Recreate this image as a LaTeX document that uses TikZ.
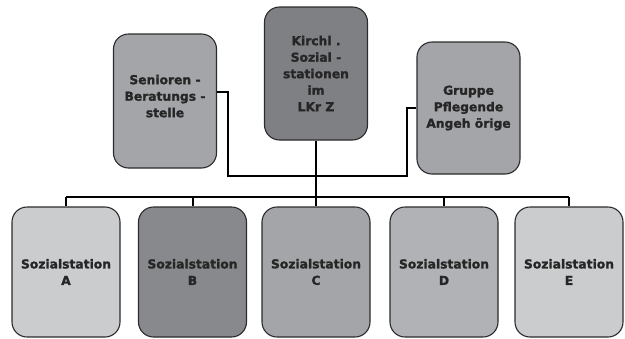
\documentclass[tikz,border=0pt]{standalone}
\usepackage{fontspec}
\setmainfont{DejaVu Sans}[BoldFeatures={FakeBold=1.5}]
\usepackage{xcolor}
\usepackage{tikz}
\usetikzlibrary{positioning}
\definecolor{rim}{HTML}{2B2B2D}
\definecolor{paleg}{HTML}{CBCCCE}
\definecolor{midg}{HTML}{A4A5A8}
\definecolor{softg}{HTML}{B1B2B5}
\definecolor{darkg}{HTML}{88898C}
\definecolor{deepg}{HTML}{7F8083}
\tikzset{
  org/.style   ={rounded corners=15pt,draw=rim,line width=1.1pt,align=center,
                 font=\fontsize{12.3}{16.5}\selectfont\bfseries,text=black!85},
  topbox/.style={org,minimum width=103pt,minimum height=133pt},
  station/.style={org,minimum width=108pt,minimum height=130pt},
  tree/.style  ={line width=2pt,draw=black},
  link/.style  ={line width=1.4pt,draw=black}
}
\begin{document}
\begin{tikzpicture}[x=1pt,y=-1pt]
  \useasboundingbox (0,0) rectangle (625,338);
  % upper row
  \node[topbox,fill=deepg] (kirchl) at (316,73.5) {Kirchl .\\Sozial -\\stationen\\im\\LKr Z};
  \node[topbox,fill=midg,minimum height=134pt,text depth=10pt] (senioren) at (165,101) {Senioren -\\Beratungs -\\stelle};
  \node[topbox,fill=midg,minimum height=132pt] (gruppe) at (468.5,108) {Gruppe\\Pflegende\\Angeh örige};
  % stations
  \node[station,fill=paleg] (staA) at (66,272) {Sozialstation\\A};
  \node[station,fill=darkg] (staB) at (192.5,272) {Sozialstation\\B};
  \node[station,fill=midg]  (staC) at (316,272) {Sozialstation\\C};
  \node[station,fill=softg] (staD) at (444,272) {Sozialstation\\D};
  \node[station,fill=paleg] (staE) at (569,272) {Sozialstation\\E};
  % tree
  \coordinate (bus) at (316,197);
  \draw[tree] (kirchl.south) -- (bus);
  \draw[tree] (staA.north |- bus) -- (staE.north |- bus);
  \foreach \s in {A,B,C,D,E}
    \draw[tree] (sta\s.north) -- (sta\s.north |- bus);
  \draw[link] ([yshift=9pt]senioren.east) -| (228,176) -| (407,108) -- (gruppe.west);
\end{tikzpicture}
\end{document}
